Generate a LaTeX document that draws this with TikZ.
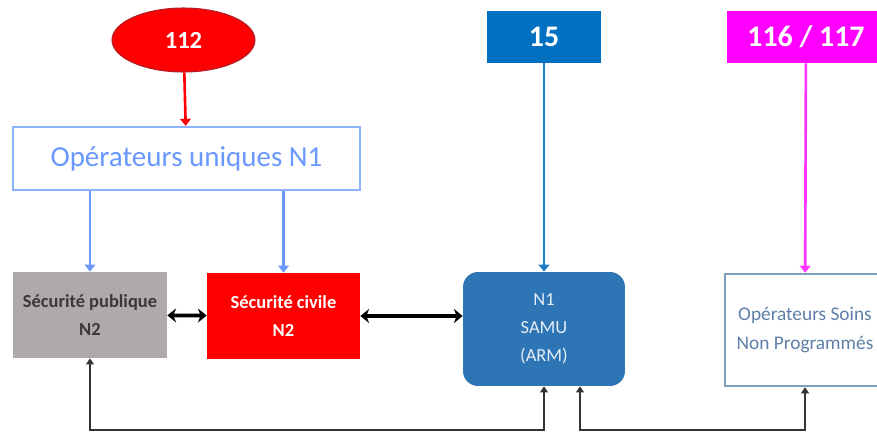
\documentclass[tikz,border=0pt]{standalone}
\usepackage{fontspec}
\setmainfont{Carlito}
\usetikzlibrary{arrows.meta,shapes.geometric}
\definecolor{rouge}{HTML}{FF0000}
\definecolor{rougeF}{HTML}{B0202A}
\definecolor{bleuClair}{HTML}{8DB3FF}
\definecolor{bleuTexte}{HTML}{6A98FF}
\definecolor{bleuQuinze}{HTML}{0070C0}
\definecolor{bleuSamu}{HTML}{2E75B6}
\definecolor{magenta}{HTML}{FF00FF}
\definecolor{grisBoite}{HTML}{AEAAAA}
\definecolor{grisTexte}{HTML}{3A3838}
\definecolor{acier}{HTML}{7F9FC0}
\definecolor{acierTexte}{HTML}{5F7FA8}
\definecolor{trait}{HTML}{333333}
\begin{document}
\begin{tikzpicture}[x=0.02cm, y=-0.02cm,
    box/.style={rectangle, inner sep=0pt, align=center},
    fl/.style={-{Triangle[length=4pt,width=6pt]}, line width=1.5pt},
    dbl/.style={{Stealth[length=5pt,width=8pt]}-{Stealth[length=5pt,width=8pt]}, line width=2.2pt, black},
    ret/.style={{Triangle[length=3.5pt,width=4.5pt]}-{Triangle[length=3.5pt,width=4.5pt]}, line width=1.2pt, trait}]
  \useasboundingbox (0,0) rectangle (877,433);
  \node[ellipse, fill=rouge, draw=rougeF, line width=0.6pt, minimum width=2.86cm, minimum height=1.28cm, inner sep=0pt, text=white, font=\fontsize{14}{16}\selectfont\bfseries] (e112) at (183.5, 40) {112};
  \node[box, fill=bleuQuinze, minimum width=2.28cm, minimum height=1.04cm, text=white, font=\fontsize{17}{19}\selectfont\bfseries] (n15) at (544, 37) {15};
  \node[box, fill=magenta, minimum width=3.16cm, minimum height=1.04cm, text=white, font=\fontsize{17}{19}\selectfont\bfseries] (n116) at (806, 37) {116 / 117};
  \node[box, draw=bleuClair, line width=1.3pt, fill=white, minimum width=6.94cm, minimum height=1.26cm, text=bleuTexte, font=\fontsize{16.5}{19}\selectfont] (opN1) at (186.5, 158.5) {Opérateurs uniques N1};
  \node[box, fill=grisBoite, minimum width=3.08cm, minimum height=1.72cm, text=grisTexte, font=\fontsize{10.5}{16}\selectfont\bfseries] (secPub) at (90, 315) {Sécurité publique\\N2};
  \node[box, fill=rouge, minimum width=3.06cm, minimum height=1.72cm, text=white, font=\fontsize{10.5}{16}\selectfont\bfseries] (secCiv) at (283.5, 316) {Sécurité civile\\N2};
  \node[box, rounded corners=0.3cm, fill=bleuSamu, minimum width=3.24cm, minimum height=2.28cm, text=white!88!bleuSamu, font=\fontsize{10.5}{16}\selectfont] (samu) at (544, 329) {N1\\SAMU\\(ARM)};
  \node[box, draw=acier, line width=1.4pt, fill=white, minimum width=3.2cm, minimum height=2.24cm, text=acierTexte, font=\fontsize{11}{16}\selectfont] (opSoins) at (805, 330) {Opérateurs Soins\\Non Programmés};
  \coordinate (bas) at (0, 430);
  \coordinate (samuR) at ([xshift=0.72cm]samu.south);
  % appels
  \draw[fl, rouge] (e112) -- (opN1);
  \draw[fl, bleuTexte] (opN1.south -| secPub) -- (secPub);
  \draw[fl, bleuTexte] (opN1.south -| secCiv) -- (secCiv);
  \draw[fl, bleuQuinze!90!white] (n15) -- (samu);
  \draw[fl, magenta!80!white] (n116) -- (opSoins);
  % liaisons
  \draw[dbl] (secPub) -- (secCiv);
  \draw[dbl] (secCiv.east) -- (secCiv.east -| samu.west);
  \draw[ret] (secPub.south) -- (secPub.south |- bas) -| (samu.south);
  \draw[ret] (samuR) -- (samuR |- bas) -| (opSoins.south);
\end{tikzpicture}
\end{document}
